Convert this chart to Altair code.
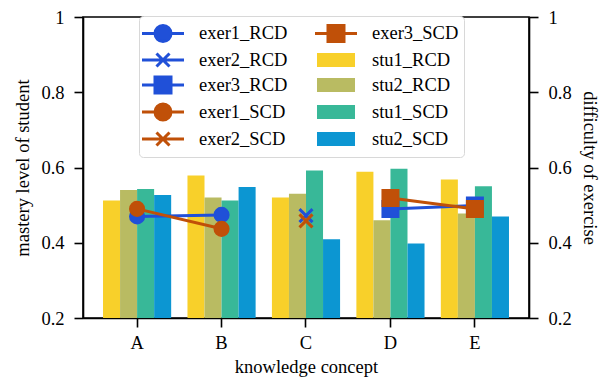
import altair as alt
import pandas as pd

# ---------------- data ----------------
concepts = ["A", "B", "C", "D", "E"]

stu_names = ["stu1_RCD", "stu2_RCD", "stu1_SCD", "stu2_SCD"]
stu1_RCD = [0.512, 0.579, 0.520, 0.589, 0.568]
stu2_RCD = [0.540, 0.520, 0.530, 0.460, 0.478]
stu1_SCD = [0.543, 0.512, 0.592, 0.597, 0.550]
stu2_SCD = [0.527, 0.548, 0.409, 0.398, 0.470]

exer1_RCD_concepts = ["A", "B"]
exer1_RCD_values = [0.470, 0.474]
exer2_RCD_concepts = ["C"]
exer2_RCD_values = [0.472]
exer3_RCD_concepts = ["D", "E"]
exer3_RCD_values = [0.490, 0.499]
exer1_SCD_concepts = ["A", "B"]
exer1_SCD_values = [0.490, 0.437]
exer2_SCD_concepts = ["C"]
exer2_SCD_values = [0.458]
exer3_SCD_concepts = ["D", "E"]
exer3_SCD_values = [0.519, 0.490]

y_ticks = [0.2, 0.4, 0.6, 0.8, 1.0]

# ---------------- styling ----------------
FONT = "Liberation Serif"
FS = 18.5
BLUE = "#2050D8"
ORANGE = "#C05008"
colors = {
    "exer1_RCD": BLUE, "exer2_RCD": BLUE, "exer3_RCD": BLUE,
    "exer1_SCD": ORANGE, "exer2_SCD": ORANGE, "exer3_SCD": ORANGE,
    "stu1_RCD": "#F8D02A", "stu2_RCD": "#B9BB62",
    "stu1_SCD": "#38B898", "stu2_SCD": "#0C96D2",
}
CIRCLE_P = "M-2,0H2M0.762,0A0.762,0.762,0,1,1,-0.762,0A0.762,0.762,0,1,1,0.762,0Z"
CROSS_P = "M-2,0H2M-0.62,-0.62L0.62,0.62M0.62,-0.62L-0.62,0.62"
SQUARE_P = "M-2,0H2M-0.762,-0.762H0.762V0.762H-0.762Z"
RECT_P = "M-1.667,-0.524H1.667V0.524H-1.667Z"
legend_shapes = {
    "exer1_RCD": CIRCLE_P, "exer2_RCD": CROSS_P, "exer3_RCD": SQUARE_P,
    "exer1_SCD": CIRCLE_P, "exer2_SCD": CROSS_P, "exer3_SCD": SQUARE_P,
    "stu1_RCD": RECT_P, "stu2_RCD": RECT_P, "stu1_SCD": RECT_P, "stu2_SCD": RECT_P,
}
# legend fills column by column
legend_order = ["exer1_RCD", "exer2_RCD", "exer3_RCD", "exer1_SCD", "exer2_SCD",
                "exer3_SCD", "stu1_RCD", "stu2_RCD", "stu1_SCD", "stu2_SCD"]

# ---------------- tables ----------------
bar_rows = []
for name, vals in zip(stu_names, [stu1_RCD, stu2_RCD, stu1_SCD, stu2_SCD]):
    for c, v in zip(concepts, vals):
        bar_rows.append({"concept": c, "series": name, "value": v})
bar_df = pd.DataFrame(bar_rows)

exer_specs = [
    ("exer1_RCD", "RCD", "circle", exer1_RCD_concepts, exer1_RCD_values),
    ("exer2_RCD", "RCD", "cross", exer2_RCD_concepts, exer2_RCD_values),
    ("exer3_RCD", "RCD", "square", exer3_RCD_concepts, exer3_RCD_values),
    ("exer1_SCD", "SCD", "circle", exer1_SCD_concepts, exer1_SCD_values),
    ("exer2_SCD", "SCD", "cross", exer2_SCD_concepts, exer2_SCD_values),
    ("exer3_SCD", "SCD", "square", exer3_SCD_concepts, exer3_SCD_values),
]
exer_rows = []
for name, grp, mk, cs, vs in exer_specs:
    for c, v in zip(cs, vs):
        exer_rows.append({"concept": c, "series": name, "grp": grp, "marker": mk, "value": v})
exer_df = pd.DataFrame(exer_rows)
legend_df = pd.DataFrame({"series": legend_order})

# ---------------- legend / scales / axes ----------------
leg = alt.Legend(
    title=None, orient="none", legendX=56, legendY=-1, columns=2,
    labelFont=FONT, labelFontSize=FS, labelColor="black", labelLimit=300,
    symbolSize=441, symbolStrokeWidth=3, symbolOpacity=1, symbolOffset=7,
    labelOffset=24, padding=5, rowPadding=-3, columnPadding=21,
    strokeColor="#d8d8d8", fillColor="white", cornerRadius=4,
)
fill_scale = alt.Scale(domain=legend_order, range=[colors[s] for s in legend_order])
stroke_scale = alt.Scale(domain=legend_order, range=[colors[s] for s in legend_order])
shape_scale = alt.Scale(domain=legend_order, range=[legend_shapes[s] for s in legend_order])

FILL = alt.Fill("series:N", scale=fill_scale, legend=leg)
STROKE = alt.Stroke("series:N", scale=stroke_scale, legend=leg)

x_enc = alt.X("concept:N", sort=concepts,
              scale=alt.Scale(paddingInner=0.193, paddingOuter=0.237),
              axis=alt.Axis(title="knowledge concept", labelAngle=0, labelPadding=6,
                            titlePadding=6))

label_expr = "datum.value == 1 ? '1' : format(datum.value, '.1f')"
y_left = alt.Y("value:Q", scale=alt.Scale(domain=[0.2, 1], nice=False, zero=False),
               axis=alt.Axis(title="mastery level of student", values=y_ticks,
                             labelExpr=label_expr, orient="left", titlePadding=8,
                             labelPadding=10))
y_right = alt.Y("value:Q", scale=alt.Scale(domain=[0.2, 1], nice=False, zero=False),
                axis=alt.Axis(title="difficulty of exercise", values=y_ticks,
                              labelExpr=label_expr, orient="right", titlePadding=8,
                              labelPadding=10))

bars = alt.Chart(bar_df).mark_bar(clip=True).encode(
    x=x_enc,
    xOffset=alt.XOffset("series:N", sort=stu_names,
                        scale=alt.Scale(paddingInner=0, paddingOuter=0)),
    y=y_left,
    fill=FILL,
)

def exer_layers(grp):
    base = alt.Chart(exer_df).transform_filter(alt.datum.grp == grp)
    line = base.mark_line(strokeWidth=3).encode(
        x=x_enc, y=y_right, stroke=STROKE, detail="series:N",
    )
    circ = base.transform_filter(alt.datum.marker == "circle").mark_point(
        filled=True, shape="circle", size=214, strokeWidth=1.5, opacity=1).encode(
        x=x_enc, y=y_right, fill=FILL, stroke=STROKE,
    )
    sq = base.transform_filter(alt.datum.marker == "square").mark_point(
        filled=True, shape="square", size=272, strokeWidth=1.5, opacity=1).encode(
        x=x_enc, y=y_right, fill=FILL, stroke=STROKE,
    )
    cr = base.transform_filter(alt.datum.marker == "cross").mark_point(
        filled=False, shape="M-1,-1L1,1M1,-1L-1,1", size=169, strokeWidth=3,
        opacity=1).encode(
        x=x_enc, y=y_right, stroke=STROKE,
    )
    return [line, circ, sq, cr]

legend_layer = alt.Chart(legend_df).mark_point(opacity=0, size=1).encode(
    fill=FILL, stroke=STROKE,
    shape=alt.Shape("series:N", scale=shape_scale, legend=leg),
)

right = alt.layer(*exer_layers("RCD"), *exer_layers("SCD"), legend_layer)

chart = alt.layer(bars, right).resolve_scale(y="independent").properties(
    width=446, height=301, autosize="none",
    padding={"left": 75, "top": 9, "right": 78, "bottom": 60},
).configure_view(stroke="black", strokeWidth=1.6).configure_axis(
    domainColor="black", domainWidth=1.6, tickColor="black", tickWidth=1.6, tickSize=9,
    labelFont=FONT, labelFontSize=FS, labelColor="black",
    titleFont=FONT, titleFontSize=FS, titleColor="black", titleFontWeight="normal",
    grid=False,
).configure_legend(
    labelFont=FONT, labelFontSize=FS, labelColor="black", symbolStrokeWidth=3,
)

chart.save("out.html", embed_options={"renderer": "svg", "actions": False})
